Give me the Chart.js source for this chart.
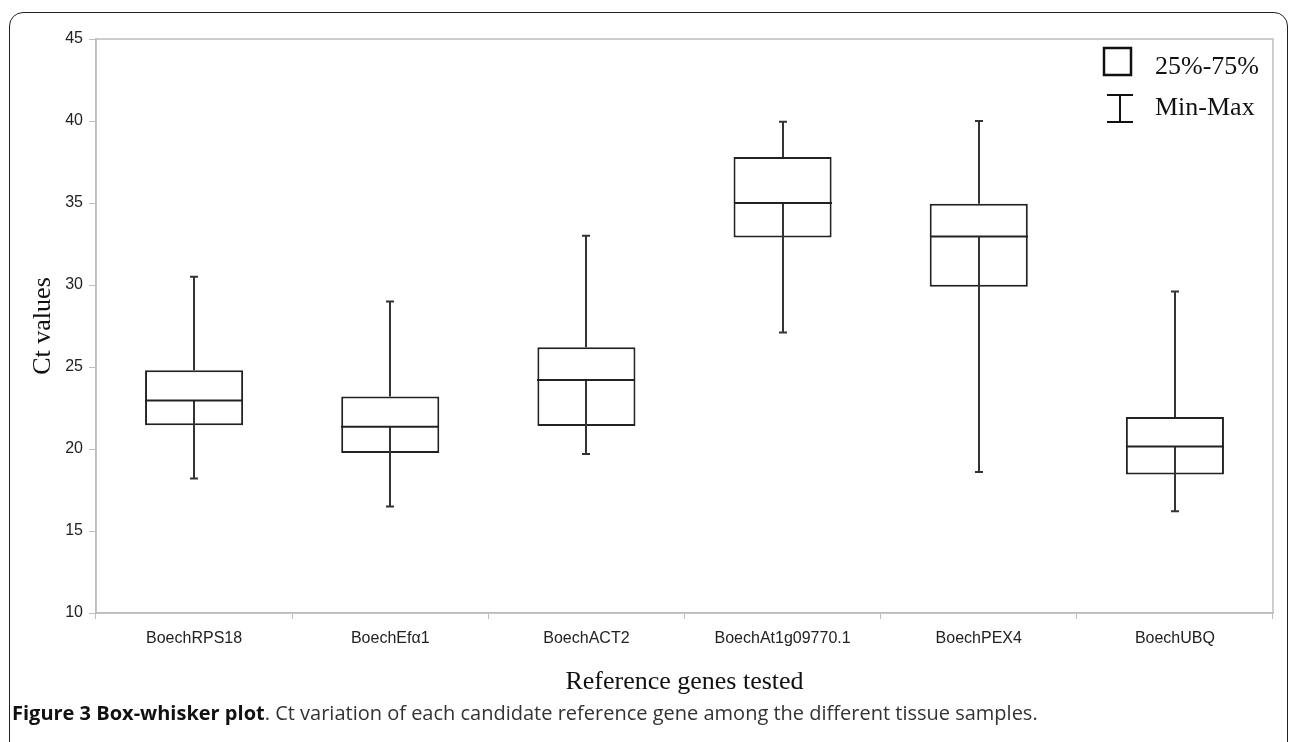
<!DOCTYPE html>
<html>
<head>
<meta charset="utf-8">
<script src="https://cdn.jsdelivr.net/npm/chart.js@4"></script>
<style>
  html, body { margin: 0; padding: 0; background: #fff; }
  body { width: 1292px; height: 742px; position: relative; overflow: hidden; }
  #frame {
    position: absolute; left: 9px; top: 12px; width: 1279px; height: 760px;
    border: 1.5px solid #222; border-radius: 14px; box-sizing: border-box;
  }
  #wrap { position: absolute; left: 0; top: 0; width: 1292px; height: 700px; }
  #caption {
    position: absolute; left: 12px; top: 699px;
    font-family: "Open Sans", sans-serif; font-size: 20px; color: #333;
    white-space: nowrap;
  }
  #caption b { color: #111; }
</style>
</head>
<body>
<div id="frame"></div>
<div id="wrap"><canvas id="myChart"></canvas></div>
<div id="caption"><b>Figure 3 Box-whisker plot</b>. Ct variation of each candidate reference gene among the different tissue samples.</div>
<script>
const genes = ["BoechRPS18", "BoechEf\u03b11", "BoechACT2", "BoechAt1g09770.1", "BoechPEX4", "BoechUBQ"];
const minVals = [18.2, 16.5, 19.7, 27.1, 18.6, 16.2];
const q1Vals = [21.45, 19.75, 21.4, 32.9, 29.9, 18.45];
const medianVals = [22.95, 21.35, 24.2, 35.0, 32.95, 20.15];
const q3Vals = [24.8, 23.2, 26.2, 37.8, 34.95, 21.95];
const maxVals = [30.5, 29.0, 33.0, 39.95, 40.0, 29.6];
const yTicks = { min: 10, max: 45, step: 5 };

const boxRange = genes.map((g, i) => [q1Vals[i], q3Vals[i]]);

// whiskers, medians, plot area frame and legend
const boxExtras = {
  id: "boxExtras",
  beforeDatasetsDraw(chart) {
    const { ctx, chartArea: a } = chart;
    ctx.save();
    ctx.strokeStyle = "#bdbdbd";
    ctx.lineWidth = 1.5;
    ctx.strokeRect(a.left, a.top, a.right - a.left, a.bottom - a.top);
    ctx.restore();
  },
  afterDatasetsDraw(chart) {
    const { ctx, scales: { x, y }, chartArea: a } = chart;
    const bars = chart.getDatasetMeta(0).data;
    ctx.save();
    ctx.strokeStyle = "#333";
    ctx.lineWidth = 2;
    genes.forEach((g, i) => {
      const cx = Math.round(x.getPixelForValue(i));
      const half = bars[i].width / 2;
      ctx.beginPath();
      ctx.moveTo(cx, y.getPixelForValue(minVals[i]));
      ctx.lineTo(cx, y.getPixelForValue(medianVals[i]));
      ctx.moveTo(cx, y.getPixelForValue(q3Vals[i]));
      ctx.lineTo(cx, y.getPixelForValue(maxVals[i]));
      ctx.moveTo(cx - 4, y.getPixelForValue(minVals[i]));
      ctx.lineTo(cx + 4, y.getPixelForValue(minVals[i]));
      ctx.moveTo(cx - 4, y.getPixelForValue(maxVals[i]));
      ctx.lineTo(cx + 4, y.getPixelForValue(maxVals[i]));
      ctx.stroke();
      ctx.strokeStyle = "#222";
      ctx.beginPath();
      ctx.moveTo(cx - half, y.getPixelForValue(medianVals[i]));
      ctx.lineTo(cx + half, y.getPixelForValue(medianVals[i]));
      ctx.stroke();
      ctx.strokeStyle = "#333";
    });

    // legend
    const lx = a.right - 169;
    const ly = a.top;
    ctx.strokeStyle = "#111";
    ctx.lineWidth = 2.5;
    ctx.strokeRect(lx, ly + 9, 27, 27);
    ctx.lineWidth = 2;
    ctx.beginPath();
    ctx.moveTo(lx + 3, ly + 56); ctx.lineTo(lx + 29, ly + 56);
    ctx.moveTo(lx + 16, ly + 56); ctx.lineTo(lx + 16, ly + 83);
    ctx.moveTo(lx + 3, ly + 83); ctx.lineTo(lx + 29, ly + 83);
    ctx.stroke();
    ctx.fillStyle = "#111";
    ctx.font = "26px 'Liberation Serif'";
    ctx.textBaseline = "middle";
    ctx.fillText("25%-75%", lx + 51, ly + 28);
    ctx.fillText("Min-Max", lx + 51, ly + 69);
    ctx.restore();
  }
};

const data = {
  labels: genes,
  datasets: [{
    label: "25%-75%",
    data: boxRange,
    backgroundColor: "#fff",
    borderColor: "#222",
    borderWidth: 2,
    borderSkipped: false,
    categoryPercentage: 1,
    barPercentage: 0.5
  }]
};

const config = {
  type: "bar",
  data,
  plugins: [boxExtras],
  options: {
    responsive: true,
    maintainAspectRatio: false,
    animation: false,
    layout: { padding: { top: 39, right: 19, left: 0, bottom: 2 } },
    plugins: { legend: { display: false }, tooltip: { enabled: false } },
    scales: {
      x: {
        offset: true,
        grid: { display: true, drawOnChartArea: false, offset: true, tickLength: 6, color: "#bdbdbd" },
        border: { color: "#bdbdbd", width: 1.5 },
        ticks: { color: "#222", font: { family: "Liberation Sans", size: 16 }, padding: 10, maxRotation: 0 },
        title: {
          display: true, text: "Reference genes tested", color: "#111",
          font: { family: "Liberation Serif", size: 26 }, padding: { top: 0, bottom: 0 }
        },
        afterFit(scale) { scale.height = 85; }
      },
      y: {
        min: yTicks.min,
        max: yTicks.max,
        ticks: { stepSize: yTicks.step, color: "#222", font: { family: "Liberation Sans", size: 16 }, padding: 6 },
        grid: { display: true, drawOnChartArea: false, tickLength: 7, color: "#bdbdbd" },
        border: { color: "#bdbdbd", width: 1.5 },
        title: {
          display: true, text: "Ct values", color: "#111",
          font: { family: "Liberation Serif", size: 26 }, padding: { top: 28, bottom: 0 }
        },
        afterFit(scale) { scale.width = 96; }
      }
    }
  }
};

window.addEventListener("load", function () {
  new Chart(document.getElementById("myChart"), config);
});
</script>
</body>
</html>
